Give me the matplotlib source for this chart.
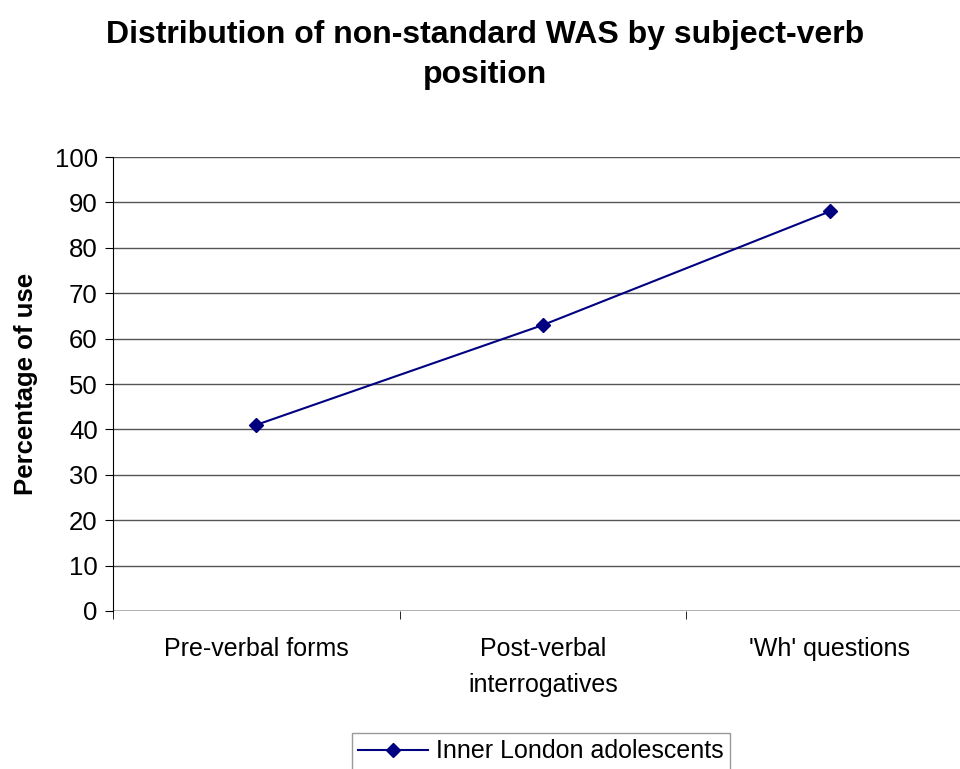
import matplotlib.pyplot as plt
from matplotlib.ticker import FixedLocator

plt.rcParams['font.family'] = ['Liberation Sans', 'DejaVu Sans']

# data
categories = ['Pre-verbal forms', 'Post-verbal\ninterrogatives', "'Wh' questions"]
values = [41, 63, 88]
series_name = 'Inner London adolescents'

fig = plt.figure(figsize=(9.6, 7.69), dpi=100)
ax = fig.add_axes([113 / 960, 1 - 611 / 769, 860 / 960, 454 / 769])

x = list(range(len(categories)))
ax.plot(x, values, color='#000080', marker='D', markersize=7, linewidth=1.5,
        label=series_name)

ax.set_xlim(-0.5, len(categories) - 0.5)
ax.set_ylim(0, 100)
ax.set_yticks(range(0, 101, 10))
ax.yaxis.grid(True, color='#555555', linewidth=1)
ax.set_axisbelow(True)

# category labels centered, ticks on boundaries
ax.set_xticks(x)
ax.set_xticklabels(categories, fontsize=18, linespacing=1.6)
ax.tick_params(axis='x', length=0, pad=19)
ax.xaxis.set_minor_locator(FixedLocator([-0.5, 0.5, 1.5, 2.5]))
ax.tick_params(axis='x', which='minor', length=6, color='black')
ax.tick_params(axis='y', labelsize=18.5, length=6, color='black', pad=5)

for s in ['top', 'right']:
    ax.spines[s].set_visible(False)
ax.spines['bottom'].set_visible(False)
ax.axhline(0, color='black', linewidth=1)
ax.spines['left'].set_color('black')

ax.set_ylabel('Percentage of use', fontsize=18.5, fontweight='bold', labelpad=12)

fig.text(485 / 960, 1 - 55 / 769, 'Distribution of non-standard WAS by subject-verb\nposition',
         ha='center', va='center', fontsize=23, fontweight='bold', linespacing=1.4)

leg = fig.legend(loc='upper center', bbox_to_anchor=(541 / 960, 1 - 733 / 769),
                 fontsize=18, frameon=True, fancybox=False, edgecolor='#808080',
                 handlelength=2.8, handletextpad=0.3, borderpad=0.25, borderaxespad=0)
leg.get_frame().set_linewidth(1)

fig.savefig('out.png', dpi=100)
